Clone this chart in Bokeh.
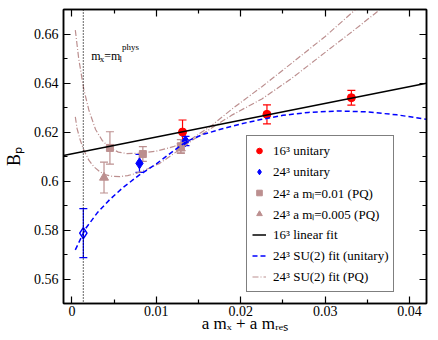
import math
from bokeh.plotting import figure
from bokeh.models import (ColumnDataSource, Whisker, TeeHead, Span, Label, Legend, LegendItem,
                          LinearAxis, FixedTicker, CustomJSTickFormatter, Range1d)
from bokeh.embed import file_html
from bokeh.resources import INLINE

# ---------------- data ----------------
x_ticks = [0.0, 0.01, 0.02, 0.03, 0.04]
x_tick_labels = ["0", "0.01", "0.02", "0.03", "0.04"]
x_minor = [0.005, 0.015, 0.025, 0.035]
y_ticks = [0.56, 0.58, 0.60, 0.62, 0.64, 0.66]
y_tick_labels = ["0.56", "0.58", "0.6", "0.62", "0.64", "0.66"]
y_minor = [0.57, 0.59, 0.61, 0.63, 0.65]

x_title = "a m\u2093 + a m\u1d63\u2091\u209b"
y_title = "B\u209a"

# 16^3 unitary
u16_x = [0.0131, 0.0231, 0.0331]
u16_y = [0.6200, 0.6272, 0.6340]
u16_err = [0.0049, 0.0039, 0.0030]

# 24^3 unitary
u24_x = [0.0080, 0.01345]
u24_y = [0.6072, 0.6163]
u24_err = [0.0037, 0.0019]

# physical point (extrapolated, open diamond)
phys_x = [0.00135]
phys_y = [0.5787]
phys_err = [0.0100]

# 24^3 a m_l = 0.01 (PQ)
pq10_x = [0.0045, 0.0084, 0.0129]
pq10_y = [0.6135, 0.6110, 0.6142]
pq10_err = [0.0066, 0.0030, 0.0027]

# 24^3 a m_l = 0.005 (PQ)
pq05_x = [0.0038, 0.0129]
pq05_y = [0.6014, 0.6133]
pq05_err = [0.0063, 0.0020]

# 16^3 linear fit
lin_x = [-0.001, 0.042]
lin_y = [0.6104, 0.6399]

# 24^3 SU(2) fit (unitary)
su2u_x = [0.0004, 0.0016, 0.003, 0.0045, 0.006, 0.008, 0.010, 0.012, 0.0135, 0.0155,
          0.0175, 0.020, 0.0225, 0.025, 0.028, 0.0315, 0.035, 0.0385, 0.042]
su2u_y = [0.5719, 0.5805, 0.5870, 0.5925, 0.5972, 0.6025, 0.6070, 0.6122, 0.6160, 0.6190,
          0.6210, 0.6233, 0.6252, 0.6268, 0.6280, 0.6286, 0.6282, 0.6270, 0.6252]

# 24^3 SU(2) fit (PQ), two curves
pqa_x = [0.0004, 0.0008, 0.0014, 0.002, 0.0028, 0.0036, 0.0045, 0.0055, 0.0065, 0.008,
         0.010, 0.012, 0.014, 0.0165, 0.019, 0.0225, 0.026, 0.030, 0.0336]
pqa_y = [0.6616, 0.6500, 0.6375, 0.6290, 0.6210, 0.6165, 0.6135, 0.6118, 0.6112, 0.6113,
         0.6122, 0.6140, 0.6168, 0.6225, 0.6295, 0.6385, 0.6480, 0.6590, 0.6700]
pqb_x = [0.0004, 0.0006, 0.001, 0.0014, 0.002, 0.0026, 0.0033, 0.0039, 0.0048, 0.0057,
         0.0066, 0.0076, 0.009, 0.0104, 0.0127, 0.0143, 0.0165, 0.019, 0.0225, 0.026,
         0.030, 0.0335, 0.0365]
pqb_y = [0.6262, 0.6215, 0.6165, 0.6127, 0.6085, 0.6058, 0.6038, 0.6026, 0.6019, 0.6018,
         0.6022, 0.6031, 0.6050, 0.6072, 0.6127, 0.6167, 0.6215, 0.6270, 0.6335, 0.6418,
         0.6525, 0.6618, 0.6700]

legend_labels = ["16\u00b3 unitary", "24\u00b3 unitary", "24\u00b2 a m\u2097=0.01 (PQ)",
                 "24\u00b3 a m\u2097=0.005 (PQ)", "16\u00b3 linear fit",
                 "24\u00b3 SU(2) fit (unitary)", "24\u00b3 SU(2) fit (PQ)"]

# ---------------- styling ----------------
RED = "#ff0000"
BLUE = "#0000ff"
ROSY = "#bc8f8f"
FONT = "Liberation Serif"

X0, X1, Y0, Y1 = -0.001, 0.042, 0.55, 0.67
W, H = 436, 338
FL, FR, FT, FB = 60, 426, 9, 303   # frame edges in figure pixels


def dx(px):
    return X0 + (px - FL) * (X1 - X0) / (FR - FL)


def dy(py):
    return Y1 - (py - FT) * (Y1 - Y0) / (FB - FT)


p = figure(width=W, height=H, output_backend="svg", toolbar_location=None,
           x_range=Range1d(X0, X1), y_range=Range1d(Y0, Y1),
           x_axis_type=None, y_axis_type=None,
           min_border_left=FL, min_border_right=W - FR, min_border_top=FT,
           min_border_bottom=H - FB)
p.grid.visible = False
p.outline_line_color = "black"
p.outline_line_width = 1.5
p.background_fill_color = "white"
p.border_fill_color = "white"


def make_axis(ticks, minor, labels, show):
    if show:
        fmt = CustomJSTickFormatter(args=dict(labs=labels, tv=ticks),
                                    code="""
            let best = 0, bd = 1e9;
            for (let i = 0; i < tv.length; i++) {
                const d = Math.abs(tv[i] - tick);
                if (d < bd) { bd = d; best = i; }
            }
            return labs[best];""")
    else:
        fmt = CustomJSTickFormatter(code="return '';")
    ax = LinearAxis(ticker=FixedTicker(ticks=ticks, minor_ticks=minor), formatter=fmt)
    ax.major_tick_in = 7
    ax.major_tick_out = 0
    ax.minor_tick_in = 4
    ax.minor_tick_out = 0
    ax.major_tick_line_width = 1.2
    ax.minor_tick_line_width = 1.2
    ax.axis_line_width = 1.5
    ax.major_label_text_font = FONT
    ax.major_label_text_color = "black"
    ax.axis_label_text_font = FONT
    ax.axis_label_text_font_style = "normal"
    ax.axis_label_text_color = "black"
    if show:
        ax.major_label_text_font_size = "14px"
    else:
        ax.major_label_text_font_size = "0px"
        ax.major_label_standoff = 0
    return ax


xb = make_axis(x_ticks, x_minor, x_tick_labels, True)
xb.major_label_standoff = 2
xb.axis_label = x_title
xb.axis_label_text_font_size = "17px"
xb.axis_label_standoff = -5
yl = make_axis(y_ticks, y_minor, y_tick_labels, True)
yl.major_label_standoff = 5
yl.axis_label = y_title
yl.axis_label_text_font_size = "18px"
yl.axis_label_standoff = 7
xt = make_axis(x_ticks, x_minor, x_tick_labels, False)
yr = make_axis(y_ticks, y_minor, y_tick_labels, False)
p.add_layout(xb, "below")
p.add_layout(yl, "left")
p.add_layout(xt, "above")
p.add_layout(yr, "right")

# physical mass line
p.add_layout(Span(location=phys_x[0], dimension="height", line_color="black",
                  line_dash="1 2", line_width=1.2))


def errbars(xs, ys, es, color):
    src = ColumnDataSource(dict(x=xs, lo=[y - e for y, e in zip(ys, es)],
                                hi=[y + e for y, e in zip(ys, es)]))
    w = Whisker(source=src, base="x", lower="lo", upper="hi", dimension="height",
                line_color=color, line_width=1.2,
                upper_head=TeeHead(size=8, line_color=color, line_width=1.2),
                lower_head=TeeHead(size=8, line_color=color, line_width=1.2))
    p.add_layout(w)


errbars(u16_x, u16_y, u16_err, RED)
errbars(u24_x, u24_y, u24_err, BLUE)
errbars(phys_x, phys_y, phys_err, BLUE)
errbars(pq10_x, pq10_y, pq10_err, ROSY)
errbars(pq05_x, pq05_y, pq05_err, ROSY)

r_pq10 = p.scatter(pq10_x, pq10_y, marker="square", size=7, fill_color=ROSY, line_color=ROSY)
r_pq05 = p.scatter(pq05_x, pq05_y, marker="triangle", size=9, fill_color=ROSY, line_color=ROSY)
r_u24 = p.scatter(u24_x, u24_y, marker="diamond", size=11,
                  fill_color=BLUE, line_color=BLUE)
p.scatter(phys_x, phys_y, marker="diamond", size=11,
          fill_color=None, line_color=BLUE, line_width=1.5)
r_u16 = p.scatter(u16_x, u16_y, marker="circle", size=8, fill_color=RED, line_color=RED)

r_pqa = p.line(pqa_x, pqa_y, line_color=ROSY, line_width=1.2, line_dash="6 2 1 2")
p.line(pqb_x, pqb_y, line_color=ROSY, line_width=1.2, line_dash="6 2 1 2")
r_su2u = p.line(su2u_x, su2u_y, line_color=BLUE, line_width=1.5, line_dash="5 3")
r_lin = p.line(lin_x, lin_y, line_color="black", line_width=1.5)

legend = Legend(items=[
    LegendItem(label=legend_labels[0], renderers=[r_u16]),
    LegendItem(label=legend_labels[1], renderers=[r_u24]),
    LegendItem(label=legend_labels[2], renderers=[r_pq10]),
    LegendItem(label=legend_labels[3], renderers=[r_pq05]),
    LegendItem(label=legend_labels[4], renderers=[r_lin]),
    LegendItem(label=legend_labels[5], renderers=[r_su2u]),
    LegendItem(label=legend_labels[6], renderers=[r_pqa]),
], location=(183, 11))
legend.label_text_font = FONT
legend.label_text_font_size = "13px"
legend.label_text_color = "black"
legend.glyph_width = 14
legend.glyph_height = 19
legend.label_height = 19
legend.label_standoff = 7
legend.spacing = 2
legend.padding = 5
legend.margin = 0
legend.border_line_color = "black"
legend.border_line_width = 1.5
legend.background_fill_color = "white"
legend.background_fill_alpha = 1.0
p.add_layout(legend)


# annotation m_x = m_l^phys
def lab(px, py, text, size, angle=0.0):
    p.add_layout(Label(x=dx(px), y=dy(py), text=text, text_font=FONT,
                       text_font_size=size, text_color="black", text_align="left",
                       text_baseline="alphabetic", angle=angle))


lab(88, 55, "m", "12px")
lab(96.5, 58, "x", "9px")
lab(101, 55, "=m", "12px")
lab(116.5, 58, "l", "9px")
lab(119, 46.5, "phys", "9px")

open("out.html", "w").write(file_html(p, INLINE))
